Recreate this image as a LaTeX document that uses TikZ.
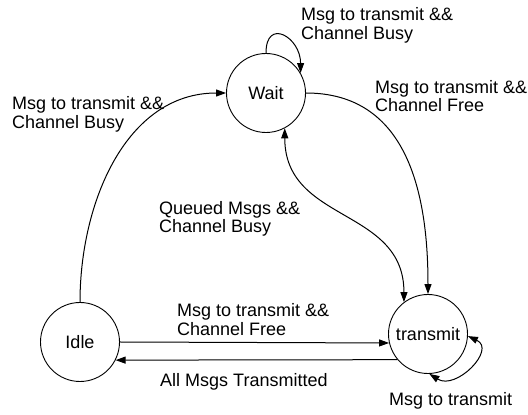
\documentclass[tikz,border=0pt]{standalone}
\usepackage{fontspec}
\setmainfont{Liberation Sans}
\usetikzlibrary{arrows.meta}
\begin{document}
\begin{tikzpicture}[x=1pt,y=1pt,
  every node/.style={font=\fontsize{18pt}{18.5pt}\selectfont},
  state/.style={draw, circle, minimum size=79pt, inner sep=0pt, line width=0.9pt},
  lbl/.style={inner sep=0pt, align=left},
  edge/.style={line width=1pt, -{Triangle[length=10pt,width=7pt]}},
  dedge/.style={line width=1pt, {Triangle[length=10pt,width=7pt]}-{Triangle[length=10pt,width=7pt]}}]
\useasboundingbox (0,0) rectangle (528,415);
\node[state] (wait) at (266,322) {Wait};
\node[state] (idle) at (80,73) {Idle};
\node[state] (transmit) at (428,81) {transmit};

% edges
\draw[edge] (idle.north) to[out=90,in=180] (wait.west);
\draw[edge] (wait.90) to[out=90,in=90,looseness=2.3] (wait.30);
\draw[edge] (wait.east) to[out=0,in=90,looseness=1.1] (transmit.north);
\draw[dedge] (wait.-62) to[out=-90,in=90,looseness=1.15] (transmit.127);
\draw[edge] (idle.east) -- (transmit.193);
\draw[edge] (transmit.220) -- (idle.-27);
\draw[dedge] (transmit.-3) to[out=-25,in=-32,looseness=1.5] (transmit.-88);

% labels
\node[lbl, anchor=west] (l1) at (12,300.6) {Msg to transmit \&\&\\Channel Busy};
\node[lbl, anchor=west] (l2) at (301,389.6) {Msg to transmit \&\&\\Channel Busy};
\node[lbl, anchor=west] (l3) at (375,319) {Msg to transmit \&\&\\Channel Free};
\node[lbl, anchor=west] (l4) at (159,196) {Queued Msgs \&\&\\Channel Busy};
\node[lbl, anchor=west] (l5) at (177,95.5) {Msg to transmit \&\&\\Channel Free};
\node[lbl, anchor=base west] (l6) at (160,28) {All Msgs Transmitted};
\node[lbl, anchor=base west] (l7) at (389,9) {Msg to transmit};
\end{tikzpicture}
\end{document}
